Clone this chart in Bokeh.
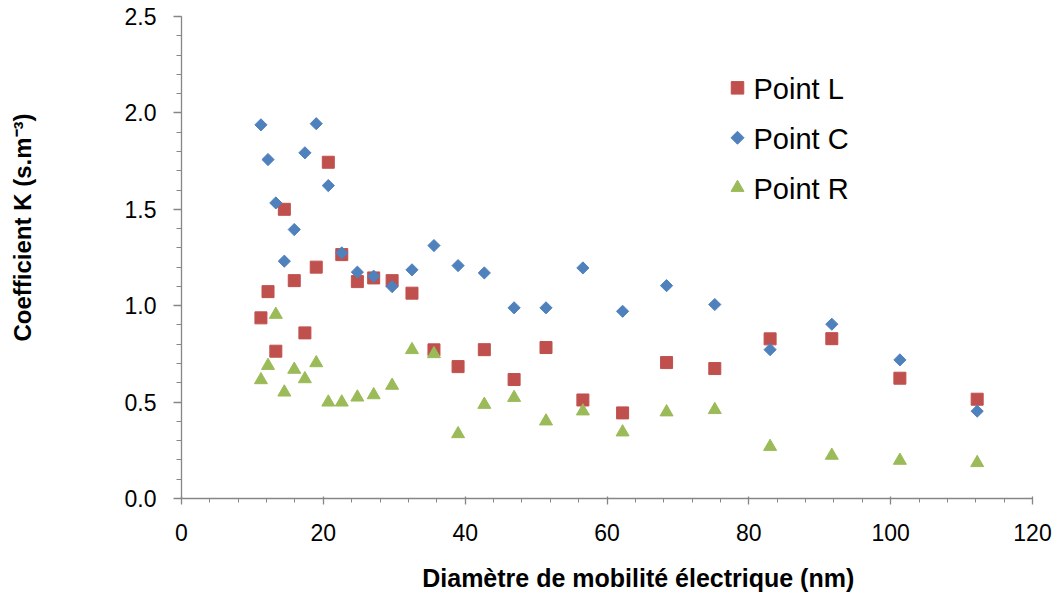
import math
from bokeh.plotting import figure
from bokeh.models import SingleIntervalTicker, NumeralTickFormatter, ColumnDataSource, Range1d
from bokeh.core.properties import value
from bokeh.embed import file_html
from bokeh.resources import INLINE

diametre = [11.2, 12.2, 13.3, 14.5, 15.9, 17.4, 19.0, 20.7, 22.6, 24.8, 27.1, 29.7, 32.5,
            35.6, 39.0, 42.7, 46.9, 51.4, 56.6, 62.2, 68.4, 75.2, 83.0, 91.7, 101.3, 112.2]
point_L = [0.937, 1.073, 0.764, 1.500, 1.13, 0.859, 1.200, 1.744, 1.265, 1.125, 1.144, 1.130, 1.065,
           0.771, 0.684, 0.772, 0.617, 0.783, 0.511, 0.444, 0.705, 0.674, 0.828, 0.829, 0.624, 0.515]
point_C = [1.938, 1.758, 1.533, 1.231, 1.395, 1.793, 1.944, 1.623, 1.274, 1.174, 1.153, 1.099, 1.186,
           1.312, 1.208, 1.170, 0.989, 0.989, 1.196, 0.971, 1.104, 1.006, 0.772, 0.904, 0.719, 0.453]
point_R = [0.615, 0.689, 0.954, 0.551, 0.669, 0.620, 0.703, 0.499, 0.499, 0.525, 0.537, 0.586, 0.771,
           0.750, 0.335, 0.487, 0.523, 0.401, 0.453, 0.344, 0.448, 0.460, 0.269, 0.223, 0.197, 0.185]
series_names = ["Point L", "Point C", "Point R"]
x_title = "Diamètre de mobilité électrique (nm)"
y_title = "Coefficient K (s.m⁻³)"

FONT = "Liberation Sans"
AXIS_GREY = "#868686"
COLORS = ["#C0504D", "#4F81BD", "#9BBB59"]
NBSP = "\u00a0"

# frame placement (pixels)
FL, FR, FT, FB = 181, 1032, 16, 499
W, H = 1055, 594
p = figure(width=W, height=H, x_range=(0, 120), y_range=(0, 2.5),
           output_backend="svg", toolbar_location=None,
           min_border_left=FL, min_border_right=W - FR, min_border_top=FT, min_border_bottom=H - FB)
p.xgrid.visible = False
p.ygrid.visible = False
p.outline_line_color = None
p.background_fill_color = "white"
p.border_fill_color = "white"

src = ColumnDataSource(dict(x=diametre, L=point_L, C=point_C, R=point_R))

p.scatter("x", "L", source=src, marker="square", size=12,
          fill_color=COLORS[0], line_color=COLORS[0])
p.scatter("x", "C", source=src, marker="square", size=8.6, angle=math.pi / 4,
          fill_color=COLORS[1], line_color=COLORS[1])
p.scatter("x", "R", source=src, marker="triangle", size=13,
          fill_color=COLORS[2], line_color=COLORS[2])

xa = p.xaxis[0]
xa.ticker = SingleIntervalTicker(interval=20, num_minor_ticks=5)
xa.formatter = NumeralTickFormatter(format="0")
ya = p.yaxis[0]
ya.ticker = SingleIntervalTicker(interval=0.5, num_minor_ticks=5)
ya.formatter = NumeralTickFormatter(format="0.0")

for ax in (xa, ya):
    ax.axis_line_color = AXIS_GREY
    ax.axis_line_width = 1.3
    ax.major_tick_line_color = AXIS_GREY
    ax.minor_tick_line_color = AXIS_GREY
    ax.major_tick_line_width = 1.3
    ax.minor_tick_line_width = 1
    ax.major_label_text_font = FONT
    ax.major_label_text_font_size = "23px"
    ax.major_label_text_color = "black"
    ax.axis_label_text_font = FONT
    ax.axis_label_text_font_style = "bold"
    ax.axis_label_text_color = "black"

xa.major_tick_in = 2
xa.major_tick_out = 6
xa.minor_tick_in = 0
xa.minor_tick_out = 4
xa.major_label_standoff = 19
# leading non-breaking spaces shift the centred title to the right, as in the original
xa.axis_label = NBSP * 9 + x_title
xa.axis_label_text_font_size = "25px"
xa.axis_label_standoff = 20

ya.major_tick_in = 0
ya.major_tick_out = 8
ya.minor_tick_in = 0
ya.minor_tick_out = 5
ya.major_label_standoff = 17
# leading non-breaking spaces shift the centred title upwards, as in the original
ya.axis_label = NBSP * 9 + y_title
ya.axis_label_text_font_size = "24px"
ya.axis_label_standoff = 86

# manual legend (pixel ranges over the frame, y measured from frame top)
p.extra_x_ranges["lx"] = Range1d(0, FR - FL)
p.extra_y_ranges["ly"] = Range1d(FB - FT, 0)
leg_y = [71.5, 121.5, 171.5]
leg = ColumnDataSource(dict(gx=[556, 556, 556], gy=leg_y,
                            tx=[572, 572, 572], ty=[y + 1 for y in leg_y],
                            label=series_names, color=COLORS,
                            marker=["square", "square", "triangle"],
                            size=[12.5, 9.2, 13], angle=[0, math.pi / 4, 0]))
p.scatter("gx", "gy", source=leg, marker="marker", size="size", angle="angle",
          fill_color="color", line_color="color", x_range_name="lx", y_range_name="ly")
p.text("tx", "ty", text="label", source=leg, text_font=value(FONT), text_font_size="29px",
       text_color="black", text_baseline="middle", text_align="left",
       x_range_name="lx", y_range_name="ly")

open("out.html", "w").write(file_html(p, INLINE))
